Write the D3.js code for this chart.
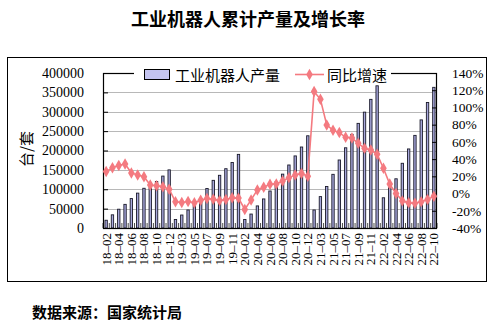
<!DOCTYPE html>
<html><head><meta charset="utf-8">
<script src="https://cdn.jsdelivr.net/npm/d3@7"></script>
<style>body{margin:0;background:#fff} svg{display:block}</style>
</head><body><svg id="c" width="497" height="327"></svg>
<script>
const categories = [
 "18-02","18-03","18-04","18-05","18-06","18-07","18-08","18-09","18-10","18-11","18-12",
 "19-02","19-03","19-04","19-05","19-06","19-07","19-08","19-09","19-10","19-11","19-12",
 "20-02","20-03","20-04","20-05","20-06","20-07","20-08","20-09","20-10","20-11","20-12",
 "21-02","21-03","21-04","21-05","21-06","21-07","21-08","21-09","21-10","21-11","21-12",
 "22-02","22-03","22-04","22-05","22-06","22-07","22-08","22-09","22-10"];
const production = [
 20000,34000,48500,61000,76000,90000,102500,104000,120000,134000,150000,
 22000,33500,46500,58000,76000,102000,123000,136000,153000,169000,190000,
 22000,36000,57000,75000,95500,119600,139000,162600,186000,209000,238000,
 46500,81000,107000,138500,175500,207000,241700,270000,299000,332000,367000,
 78000,104000,127000,167000,204000,239000,279000,324000,363000];
const growth = [
 25.5,30,32.6,34.4,24,21.5,19.5,10,9,7.8,5,
 -9.6,-10.3,-9.2,-10.7,-7.8,-5.8,-6.6,-8.2,-7,-5,-5.3,
 -18.5,-7.4,4.2,7.3,10.8,11.2,14.6,18.5,21.6,23.2,20,
 118.4,109.5,79.7,73.5,70.8,65.3,64.5,58.4,52.6,50.6,45.6,
 29.4,11,0,-8.5,-10.8,-11.2,-9.5,-7,-3];
const leftTicks = [0,50000,100000,150000,200000,250000,300000,350000,400000];
const rightTicks = [-40,-20,0,20,40,60,80,100,120,140];
const seriesNames = ["工业机器人产量","同比增速"];
const title = "工业机器人累计产量及增长率";
const yTitle = "台/套";
const source = "数据来源：国家统计局";

const svg = d3.select("#c");
const L = 103, R = 437, T = 73, B = 228;
const serif = "'Liberation Serif','Times New Roman',serif";
const cjk = "'Noto Sans CJK SC','Noto Sans',sans-serif";
const lineColor = "#f47a80";

// outer frame
svg.append("rect").attr("x",7.5).attr("y",57.5).attr("width",479).attr("height",224)
  .attr("fill","none").attr("stroke","#000").attr("stroke-width",1);

svg.append("text").attr("x",248).attr("y",26).attr("text-anchor","middle")
  .attr("font-family",cjk).attr("font-weight","bold").attr("font-size",18).text(title);
svg.append("text").attr("x",32).attr("y",318)
  .attr("font-family",cjk).attr("font-weight","bold").attr("font-size",15).text(source);

const x = d3.scaleBand().domain(categories).range([L,R]).paddingInner(0.5).paddingOuter(0.25);
const yL = d3.scaleLinear().domain([0,400000]).range([B,T]);
const yR = d3.scaleLinear().domain([-40,140]).range([B,T]);

// gridlines
svg.append("g").selectAll("line").data(leftTicks.slice(1)).join("line")
  .attr("x1",L).attr("x2",R).attr("y1",d=>Math.round(yL(d))+0.5).attr("y2",d=>Math.round(yL(d))+0.5)
  .attr("stroke","#b8b8b8").attr("stroke-width",1);

// bars
const bw = x.bandwidth();
svg.append("g").selectAll("rect").data(categories).join("rect")
  .attr("x",(d)=>x(d)+0.4).attr("width",bw-0.8)
  .attr("y",(d,i)=>yL(production[i])).attr("height",(d,i)=>B-yL(production[i]))
  .attr("fill","#a8a8dc").attr("stroke","#1a1a2a").attr("stroke-width",0.9);

// x ticks (between categories)
const step = x.step();
const bounds = d3.range(categories.length+1).map(i=>L + (i===0?0:(x(categories[0]) - x.paddingInner()*step/2) + i*step - L));
svg.append("g").selectAll("line").data(bounds).join("line")
  .attr("x1",d=>d).attr("x2",d=>d).attr("y1",B).attr("y2",B-5)
  .attr("stroke","#222").attr("stroke-width",0.8);

// plot frame
svg.append("rect").attr("x",L+0.5).attr("y",T+0.5).attr("width",R-L-1).attr("height",B-T)
  .attr("fill","none").attr("stroke","#000").attr("stroke-width",1.2);

// left axis
const gL = svg.append("g").attr("transform",`translate(${L},0)`)
  .call(d3.axisLeft(yL).tickValues(leftTicks).tickSize(-5).tickPadding(19).tickFormat(d3.format("d")));
gL.select(".domain").remove();
gL.selectAll("line").attr("stroke","#000");
gL.selectAll("text").attr("font-family",serif).attr("font-size",14).attr("fill","#000");

// right axis
const gR = svg.append("g").attr("transform",`translate(${R},0)`)
  .call(d3.axisRight(yR).tickValues(rightTicks).tickSize(-5).tickPadding(15).tickFormat(d=>d+"%"));
gR.select(".domain").remove();
gR.selectAll("line").attr("stroke","#000");
gR.selectAll("text").attr("font-family",serif).attr("font-size",13.5).attr("fill","#000");

// x labels every other category
const gX = svg.append("g");
categories.forEach((c,i)=>{
  if(i%2!==0) return;
  const cx = x(c)+bw/2;
  gX.append("text").attr("transform",`translate(${cx+4.5},${B+5}) rotate(-90)`)
    .attr("text-anchor","end").attr("font-family",serif).attr("font-size",13).text(c.replace("-","\u2013"));
});

// line
const line = d3.line().x((d,i)=>x(categories[i])+bw/2).y(d=>yR(d));
svg.append("path").datum(growth).attr("d",line).attr("fill","none")
  .attr("stroke",lineColor).attr("stroke-width",1.6);
const sym = d3.symbol().type(d3.symbolDiamond).size(38);
svg.append("g").selectAll("path").data(growth).join("path")
  .attr("transform",(d,i)=>`translate(${x(categories[i])+bw/2},${yR(d)})`)
  .attr("d",sym).attr("fill",lineColor);

// y title
svg.append("text").attr("transform","translate(25,149) rotate(-90)").attr("text-anchor","middle")
  .attr("dominant-baseline","central").attr("font-family",cjk).attr("font-size",15).text(yTitle);

// legend
svg.append("rect").attr("x",134).attr("y",64).attr("width",257).attr("height",19).attr("fill","#fff");
svg.append("rect").attr("x",144.5).attr("y",69.5).attr("width",25).attr("height",10)
  .attr("fill","#c4c4f0").attr("stroke","#000").attr("stroke-width",1);
svg.append("text").attr("x",175).attr("y",74.5).attr("dominant-baseline","central")
  .attr("font-family",cjk).attr("font-size",15).text(seriesNames[0]);
svg.append("line").attr("x1",295).attr("x2",324).attr("y1",74.5).attr("y2",74.5)
  .attr("stroke",lineColor).attr("stroke-width",1.6);
svg.append("path").attr("transform","translate(309.5,74.5)").attr("d",sym).attr("fill",lineColor);
svg.append("text").attr("x",327).attr("y",74.5).attr("dominant-baseline","central")
  .attr("font-family",cjk).attr("font-size",15).text(seriesNames[1]);
</script></body></html>
